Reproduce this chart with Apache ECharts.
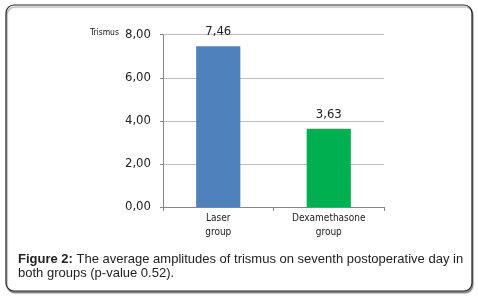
<!DOCTYPE html>
<html>
<head>
<meta charset="utf-8">
<script src="https://cdn.jsdelivr.net/npm/echarts@6/dist/echarts.min.js"></script>
<style>
  html, body { margin: 0; padding: 0; background: #fff; }
  #chart { width: 478px; height: 296px; }
</style>
</head>
<body>
<div id="chart"></div>
<script>
// data
const groups = ["Laser\ngroup", "Dexamethasone\ngroup"];
const trismus = [7.46, 3.63];
const barColors = ["#4f81bd", "#00b050"];
const yTicks = [0, 2, 4, 6, 8];

const narrow = "'Liberation Sans Narrow', 'DejaVu Sans Condensed', sans-serif";

const chart = echarts.init(document.getElementById("chart"));
const option = {
  animation: false,
  grid: { left: 163, right: 94, top: 34.7, bottom: 89 },
  // outer rounded frame
  graphic: [
    {
      type: "rect",
      z: -10,
      shape: { x: 6, y: 5, width: 466, height: 286, r: 8 },
      style: {
        fill: "#fff",
        stroke: "#222",
        lineWidth: 1.2,
        shadowColor: "rgba(0,0,0,0.4)",
        shadowOffsetX: 1,
        shadowOffsetY: 2,
        shadowBlur: 1
      }
    },
    {
      type: "text",
      left: 90,
      top: 28,
      style: { text: "Trismus", font: "8.5px " + narrow, fill: "#111" }
    },
    {
      type: "text",
      left: 18,
      top: 252,
      style: {
        text: "{b|Figure 2:} The average amplitudes of trismus on seventh postoperative day in\nboth groups (p-value 0.52).",
        fill: "#222",
        font: "13px 'Liberation Sans', Arial, sans-serif",
        lineHeight: 14.5,
        rich: {
          b: { fontWeight: "bold", fontSize: 13, fontFamily: "'Liberation Sans', Arial, sans-serif", fill: "#222" }
        }
      }
    }
  ],
  xAxis: {
    type: "category",
    data: groups,
    axisLine: { lineStyle: { color: "#868686", width: 1 } },
    axisTick: { show: true, length: 4, lineStyle: { color: "#868686" } },
    axisLabel: {
      color: "#222",
      fontFamily: narrow,
      fontSize: 10,
      lineHeight: 13.5,
      margin: 5
    }
  },
  yAxis: {
    type: "value",
    min: yTicks[0],
    max: yTicks[yTicks.length - 1],
    interval: 2,
    axisLine: { show: true, lineStyle: { color: "#868686", width: 1 } },
    axisTick: { show: true, length: 3, lineStyle: { color: "#868686" } },
    splitLine: { lineStyle: { color: "#bfbfbf", width: 1 } },
    axisLabel: {
      color: "#222",
      fontFamily: narrow,
      fontSize: 13,
      margin: 12,
      formatter: v => v.toFixed(2).replace(".", ",")
    }
  },
  series: [
    {
      type: "bar",
      barWidth: "40%",
      data: trismus.map((v, i) => ({ value: v, itemStyle: { color: barColors[i] } })),
      label: {
        show: true,
        position: "top",
        distance: 8,
        color: "#222",
        fontFamily: narrow,
        fontSize: 13,
        formatter: p => p.value.toFixed(2).replace(".", ",")
      }
    }
  ]
};
chart.setOption(option);
</script>
</body>
</html>
